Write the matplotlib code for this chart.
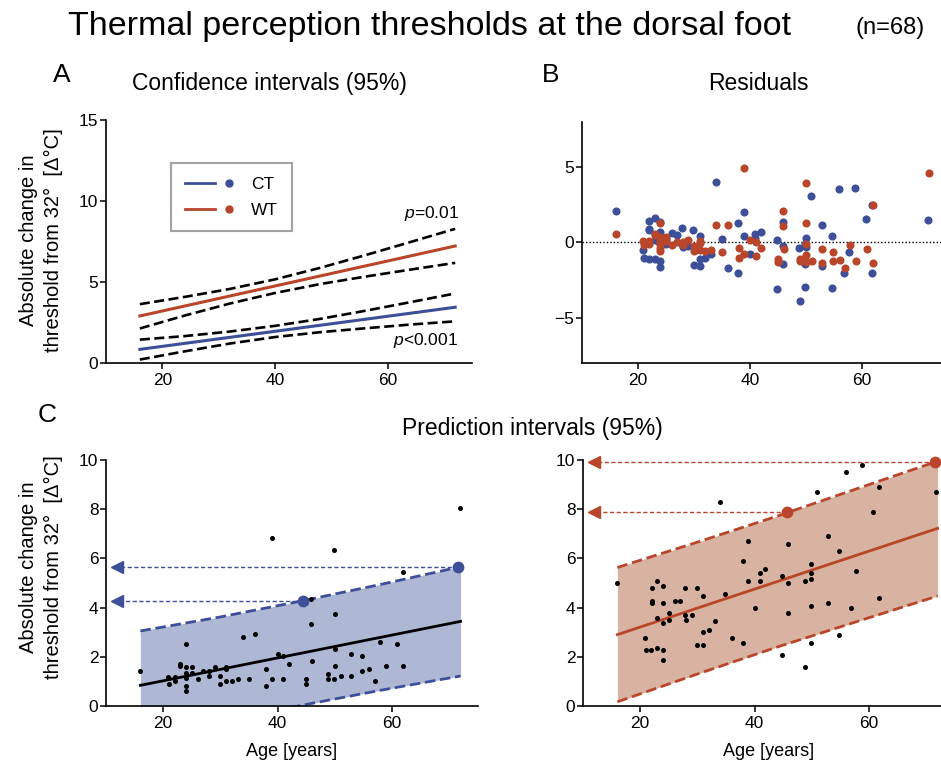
import numpy as np
import matplotlib.pyplot as plt
from matplotlib.lines import Line2D
from matplotlib.legend_handler import HandlerTuple

plt.rcParams['font.family'] = ['Liberation Sans', 'DejaVu Sans']
plt.rcParams['mathtext.fontset'] = 'custom'
plt.rcParams['mathtext.it'] = 'Liberation Sans:italic'
plt.rcParams['mathtext.rm'] = 'Liberation Sans'

BLUE = '#3d4f98'
RED = '#b9452a'
BLUE_FILL = '#aeb8d5'
RED_FILL = '#d8b3a2'

# fitted regression lines (end points)
fit_age = [16, 72]
ct_fit = [0.84, 3.44]
wt_fit = [2.90, 7.22]

# 95% confidence bands (panel A)
ci_age = [16, 24, 32, 40, 48, 56, 64, 72]
ct_ci_hi = [1.44, 1.66, 1.94, 2.29, 2.72, 3.22, 3.75, 4.29]
ct_ci_lo = [0.21, 0.72, 1.20, 1.60, 1.90, 2.14, 2.37, 2.57]
wt_ci_hi = [3.63, 4.08, 4.57, 5.16, 5.87, 6.65, 7.46, 8.28]
wt_ci_lo = [2.13, 2.93, 3.67, 4.32, 4.87, 5.33, 5.76, 6.18]

# 95% prediction bands (panel C)
pi_age = [16, 30, 44, 58, 72]
ct_pi_hi = [3.05, 3.62, 4.26, 4.94, 5.66]
ct_pi_lo = [-1.37, -0.64, 0.02, 0.64, 1.22]
wt_pi_hi = [5.63, 6.66, 7.72, 8.84, 9.95]
wt_pi_lo = [0.17, 1.30, 2.40, 3.44, 4.47]

# highlighted subjects on the upper prediction limit
ct_mark_age = [44.4, 71.6]
ct_mark_val = [4.28, 5.66]
wt_mark_age = [45.6, 71.5]
wt_mark_val = [7.88, 9.92]

# individual thresholds, CT
ct_age = [16, 20.9, 21, 22, 22, 23, 23, 24, 24, 24, 24, 24, 24, 25, 25, 26, 27, 28, 28, 29,
          30, 30, 31, 31, 31, 32, 33, 34, 35, 36, 38, 38, 39, 39, 40, 41, 41, 42, 44.9, 44.9,
          45.9, 45.9, 46, 48.9, 48.9, 49.9, 50, 50, 50, 49.9, 51, 52.9, 52.9, 54.8, 54.8, 56, 57,
          57.9, 58.9, 60.9, 61.9, 61.9, 71.9]
ct_val = [1.41, 1.19, 0.89, 1.19, 1.03, 1.71, 1.63, 2.52, 1.60, 1.33, 1.14, 0.81, 0.62, 1.60,
          1.33, 1.11, 1.41, 1.41, 1.22, 1.60, 1.22, 0.91, 1.60, 1.52, 1.03, 1.03, 1.11, 2.82,
          1.11, 2.93, 1.52, 0.81, 6.84, 1.11, 2.11, 2.03, 1.11, 1.71, 1.11, 0.91, 4.34, 3.32,
          1.82, 1.30, 1.11, 6.34, 3.74, 2.32, 1.61, 1.11, 1.21, 2.10, 1.21, 2.02, 1.41, 1.52,
          1.02, 2.62, 1.61, 2.52, 5.43, 1.61, 8.05]

# individual thresholds, WT
wt_age = [16.0, 20.9, 21.0, 21.9, 22.0, 22.0, 22.0, 23.0, 23.0, 23.0, 24.0, 24.0, 24.0, 24.0,
          24.0, 25.0, 25.0, 26.0, 27.0, 27.9, 27.9, 28.0, 29.0, 29.9, 30.0, 31.0, 31.0, 31.0,
          32.0, 33.0, 34.0, 34.9, 36.0, 37.9, 37.9, 38.9, 38.9, 40.0, 40.9, 40.9, 41.9, 44.8,
          44.8, 45.8, 45.9, 45.9, 48.8, 48.9, 49.8, 49.9, 49.9, 49.8, 49.8, 50.9, 52.8, 52.8,
          54.7, 54.7, 55.9, 56.8, 57.7, 58.8, 60.7, 61.8, 61.8, 71.7]
wt_val = [4.98, 2.77, 2.27, 2.27, 4.80, 4.27, 4.18, 5.09, 3.57, 2.37, 4.88, 4.18, 3.39, 2.27,
          1.86, 3.79, 3.49, 4.27, 4.27, 4.79, 3.69, 3.49, 3.69, 4.79, 2.48, 4.49, 2.99, 2.48,
          3.07, 3.47, 8.30, 4.57, 2.77, 5.89, 2.56, 6.69, 5.07, 3.99, 5.09, 5.39, 5.58, 5.29,
          2.06, 6.58, 4.98, 3.79, 5.09, 1.57, 5.39, 5.79, 5.18, 4.08, 2.56, 8.68, 6.89, 4.18,
          6.30, 2.88, 9.50, 3.99, 5.50, 9.80, 7.90, 8.89, 4.38, 8.68]

# residuals from the fitted lines
ct_res = np.array(ct_val) - np.interp(ct_age, fit_age, ct_fit)
wt_res = np.array(wt_val) - np.interp(wt_age, fit_age, wt_fit)

ylab = 'Absolute change in\nthreshold from 32°  [Δ°C]'
TICK = 12.5


def style(ax, ylim, yticks):
    ax.spines['top'].set_visible(False)
    ax.spines['right'].set_visible(False)
    ax.spines['left'].set_linewidth(1.2)
    ax.spines['bottom'].set_linewidth(1.2)
    ax.set_xlim(10, 75)
    ax.set_ylim(*ylim)
    ax.set_xticks([20, 40, 60])
    ax.set_yticks(yticks)
    ax.tick_params(direction='out', length=4.5, width=1.1, labelsize=TICK)
    ax.tick_params(axis='y', pad=1)
    ax.tick_params(axis='x', pad=3)


fig = plt.figure(figsize=(9.41, 7.69), dpi=100)

# ---- A: confidence intervals
axA = fig.add_axes([0.1127, 0.528, 0.389, 0.316])
style(axA, (0, 15), [0, 5, 10, 15])
dash = dict(color='black', lw=1.9, dashes=(3.8, 1.7))
axA.plot(ci_age, wt_ci_hi, **dash)
axA.plot(ci_age, wt_ci_lo, **dash)
axA.plot(ci_age, ct_ci_hi, **dash)
axA.plot(ci_age, ct_ci_lo, **dash)
axA.plot(fit_age, wt_fit, color=RED, lw=2.2)
axA.plot(fit_age, ct_fit, color=BLUE, lw=2.2)
axA.text(72.8, 9.2, '$p$=0.01', ha='right', va='center', fontsize=12.5)
axA.text(72.4, 1.36, '$p$<0.001', ha='right', va='center', fontsize=12.5)

h_ct = (Line2D([], [], color=BLUE, lw=2), Line2D([], [], color=BLUE, marker='o', ls='none', ms=5))
h_wt = (Line2D([], [], color=RED, lw=2), Line2D([], [], color=RED, marker='o', ls='none', ms=5))
leg = axA.legend([h_ct, h_wt], ['CT', 'WT'], handler_map={tuple: HandlerTuple(ndivide=None, pad=0)},
                 loc='upper left', bbox_to_anchor=(0.178, 0.823), borderaxespad=0,
                 handlelength=3.4, handletextpad=0.4, labelspacing=0.6, borderpad=0.8,
                 fontsize=12.5, fancybox=False, frameon=True)
leg.get_frame().set_edgecolor('#8c8c8c')
leg.get_frame().set_linewidth(1.5)

# ---- B: residuals
axB = fig.add_axes([0.6185, 0.528, 0.387, 0.3135])
style(axB, (-8, 8), [-5, 0, 5])
axB.axhline(0, color='black', lw=1, ls=(0, (1, 1.5)))
axB.scatter(wt_age, wt_res, s=34, color=BLUE, zorder=3, linewidths=0)
axB.scatter(ct_age, ct_res, s=34, color=RED, zorder=3, linewidths=0)

# ---- C: prediction intervals
axC1 = fig.add_axes([0.1127, 0.0819, 0.395, 0.320])
axC2 = fig.add_axes([0.6196, 0.0819, 0.395, 0.320])
panels = [(axC1, ct_pi_lo, ct_pi_hi, ct_age, ct_val, ct_fit, ct_mark_age, ct_mark_val, BLUE, BLUE_FILL, 'black'),
          (axC2, wt_pi_lo, wt_pi_hi, wt_age, wt_val, wt_fit, wt_mark_age, wt_mark_val, RED, RED_FILL, RED)]
for ax, lo, hi, ages, vals, fit, mx, my, col, fill, fitcol in panels:
    style(ax, (0, 10), [0, 2, 4, 6, 8, 10])
    ax.fill_between(pi_age, lo, hi, color=fill, lw=0, zorder=1)
    ax.plot(pi_age, hi, color=col, lw=2, dashes=(3.8, 1.7), zorder=2)
    ax.plot(pi_age, lo, color=col, lw=2, dashes=(3.8, 1.7), zorder=2)
    ax.plot(fit_age, fit, color=fitcol, lw=2, zorder=3)
    ax.scatter(ages, vals, s=13, color='black', zorder=4, linewidths=0)
    for x, y in zip(mx, my):
        ax.plot([x, 12.6], [y, y], color=col, lw=1, dashes=(3, 1.8), zorder=5)
        ax.plot(12.0, y, marker='<', ms=8, color=col, mec=col, zorder=6, clip_on=False)
    ax.scatter(mx, my, s=72, color=col, zorder=6, linewidths=0, clip_on=False)
    ax.set_xlabel('Age [years]', fontsize=13, labelpad=8)

# ---- texts
fig.text(0.457, 0.966, 'Thermal perception thresholds at the dorsal foot', ha='center', va='center',
         fontsize=24.5)
fig.text(0.946, 0.963, '(n=68)', ha='center', va='center', fontsize=17)
fig.text(0.066, 0.902, 'A', ha='center', va='center', fontsize=19)
fig.text(0.585, 0.902, 'B', ha='center', va='center', fontsize=19)
fig.text(0.050, 0.460, 'C', ha='center', va='center', fontsize=19)
fig.text(0.286, 0.892, 'Confidence intervals (95%)', ha='center', va='center', fontsize=16.5)
fig.text(0.806, 0.892, 'Residuals', ha='center', va='center', fontsize=16.5)
fig.text(0.566, 0.443, 'Prediction intervals (95%)', ha='center', va='center', fontsize=16.5)
fig.text(0.0435, 0.688, ylab, ha='center', va='center', rotation=90, fontsize=14.5, linespacing=1.45)
fig.text(0.0435, 0.262, ylab, ha='center', va='center', rotation=90, fontsize=14.5, linespacing=1.45)

fig.savefig('out.png', dpi=100)
